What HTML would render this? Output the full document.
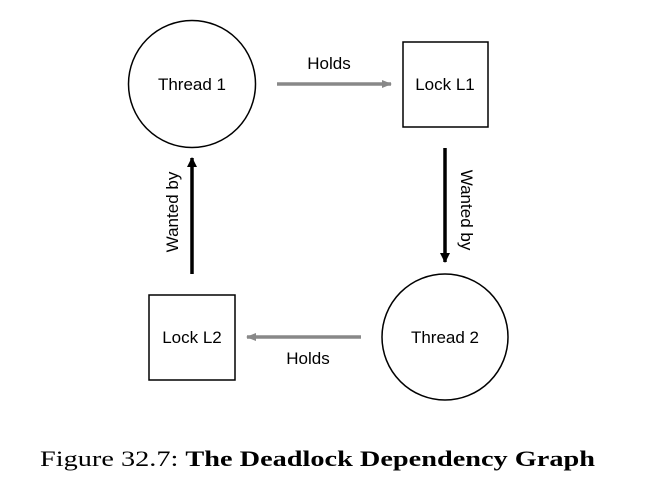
<!DOCTYPE html>
<html><head><style>
html,body{margin:0;padding:0;background:#fff;width:672px;height:491px;overflow:hidden}
</style></head><body>
<svg width="672" height="491" viewBox="0 0 672 491" xmlns="http://www.w3.org/2000/svg">
<defs>
<marker id="ag" markerWidth="10" markerHeight="8" refX="9" refY="4" orient="auto" markerUnits="userSpaceOnUse"><path d="M0,0 L10,4 L0,8 z" fill="#888"/></marker>
<marker id="ab" markerWidth="10" markerHeight="10" refX="9" refY="5" orient="auto" markerUnits="userSpaceOnUse"><path d="M0,0 L10,5 L0,10 z" fill="#000"/></marker>
</defs>
<g fill="none" stroke="#000" stroke-width="1.5">
<circle cx="192" cy="84" r="63.5"/>
<circle cx="445" cy="337" r="63"/>
<rect x="403" y="42" width="85" height="85"/>
<rect x="149" y="295" width="86" height="85"/>
</g>
<line x1="277" y1="84" x2="391" y2="84" stroke="#888" stroke-width="3.5" marker-end="url(#ag)"/>
<line x1="361" y1="337" x2="247" y2="337" stroke="#888" stroke-width="3.5" marker-end="url(#ag)"/>
<line x1="445" y1="148" x2="445" y2="262" stroke="#000" stroke-width="3.5" marker-end="url(#ab)"/>
<line x1="192" y1="274" x2="192" y2="158" stroke="#000" stroke-width="3.5" marker-end="url(#ab)"/>
<g font-family="Liberation Sans, sans-serif" font-size="17" fill="#000" text-anchor="middle">
<text x="192" y="90">Thread 1</text>
<text x="445" y="343">Thread 2</text>
<text x="445" y="90">Lock L1</text>
<text x="192" y="343">Lock L2</text>
<text x="329" y="69">Holds</text>
<text x="308" y="364">Holds</text>
<text transform="translate(461,210) rotate(90)">Wanted by</text>
<text transform="translate(178,212) rotate(-90)">Wanted by</text>
</g>
<text x="40" y="466" font-family="Liberation Serif, serif" font-size="22" textLength="555" lengthAdjust="spacingAndGlyphs">Figure 32.7: <tspan font-weight="bold">The Deadlock Dependency Graph</tspan></text>
</svg>
</body></html>
